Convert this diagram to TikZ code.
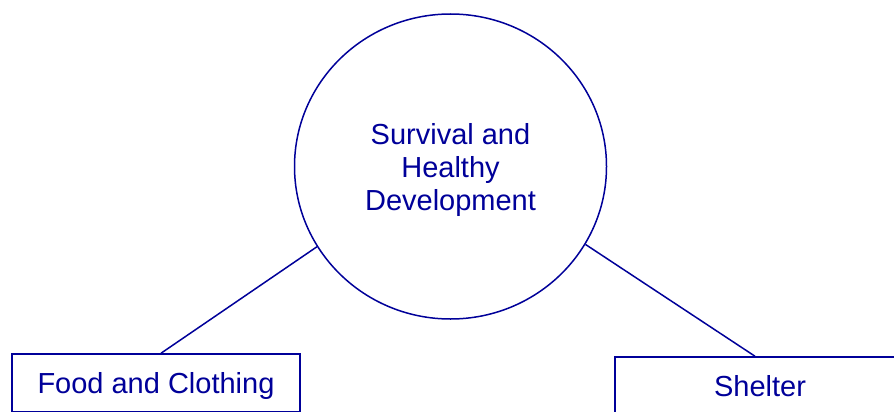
\documentclass[tikz,border=0pt]{standalone}
\usepackage{fontspec}
\setmainfont{Liberation Sans}
\usetikzlibrary{shapes.geometric,calc}
\definecolor{navyblue}{RGB}{0,0,153}
\begin{document}
\begin{tikzpicture}[x=1pt,y=-1pt,
  ink/.style={draw=navyblue,line width=1.5pt},
  lbl/.style={text=navyblue,font=\fontsize{29}{33.4}\selectfont},
  hub/.style={ink,ellipse,minimum width=312pt,minimum height=305pt,inner sep=0pt},
  leaf/.style={ink,lbl,rectangle,minimum height=58pt,inner sep=0pt,text height=21pt,text depth=0pt},
  link/.style={ink}]
\useasboundingbox (0,0) rectangle (894,412);
\clip (0,0) rectangle (894,412);
\node[hub] (c) at (450.5,166.5) {};
\node[lbl,align=center,inner sep=0pt] (ct) at (450.5,170) {Survival and\\Healthy\\Development};
\node[leaf,minimum width=288pt] (food) at (156,383) {Food and Clothing};
\node[leaf,minimum width=290pt] (shelter) at (760,386) {Shelter};
\draw[link] (c.211) -- ($(food.north)+(5,0)$);
\draw[link] (c.330) -- ($(shelter.north)+(-5,0)$);
\end{tikzpicture}
\end{document}
